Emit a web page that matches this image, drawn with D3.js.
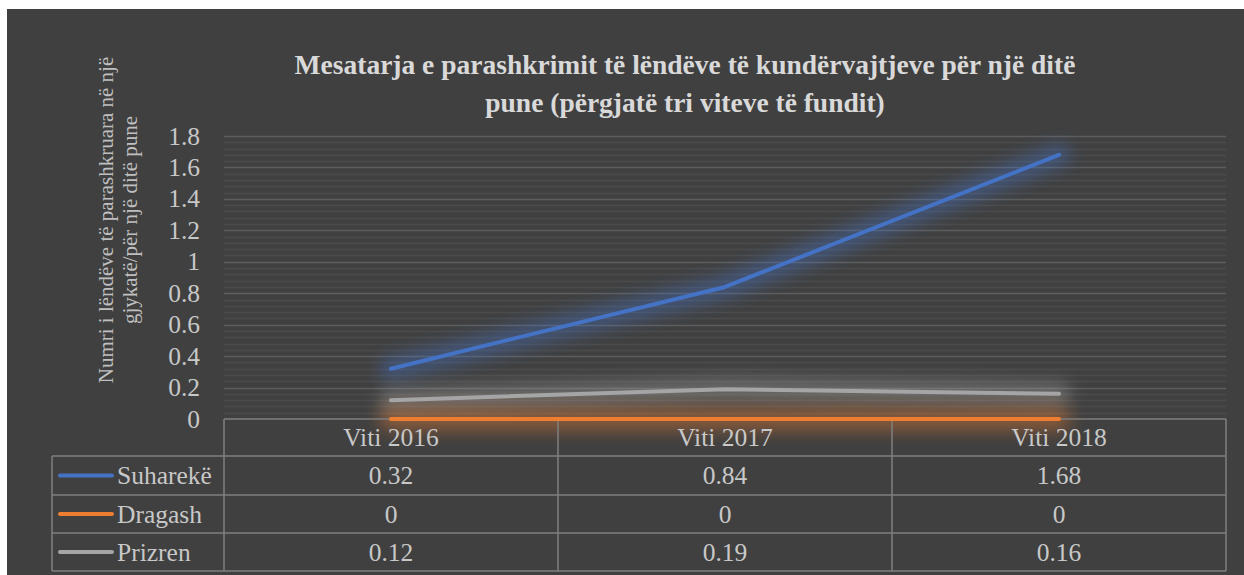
<!DOCTYPE html>
<html>
<head>
<meta charset="utf-8">
<script src="https://cdn.jsdelivr.net/npm/d3@7"></script>
<style>
  body { margin: 0; background: #fff; }
  svg text { font-family: "Liberation Serif", "Times New Roman", Times, "DejaVu Serif", serif; }
</style>
</head>
<body>
<div id="chart"></div>
<script>
// data
const categories = ["Viti 2016", "Viti 2017", "Viti 2018"];
const seriesNames = ["Suharekë", "Dragash", "Prizren"];
const suhareke = [0.32, 0.84, 1.68];
const dragash = [0, 0, 0];
const prizren = [0.12, 0.19, 0.16];
const yTicks = [0, 0.2, 0.4, 0.6, 0.8, 1, 1.2, 1.4, 1.6, 1.8];
const titleLines = ["Mesatarja e parashkrimit të lëndëve të kundërvajtjeve për një ditë",
                    "pune (përgjatë tri viteve të fundit)"];
const yTitleLines = ["Numri i lëndëve të parashkruara në një", "gjykatë/për një ditë pune"];

const colors = ["#4472c4", "#ed7d31", "#a5a5a5"];
const series = seriesNames.map((name, i) => ({name: name, values: [suhareke, dragash, prizren][i], color: colors[i]}));

const W = 1244, H = 575;
const serif = "'Liberation Serif', 'Times New Roman', Times, 'DejaVu Serif', serif";
const svg = d3.select("#chart").append("svg")
    .attr("width", W)
    .attr("height", H)
    .attr("font-family", serif)
    .style("font-family", serif);

// glow filter, user space so flat lines (zero-height bbox) still get it
const defs = svg.append("defs");
defs.append("filter").attr("id", "glow")
    .attr("filterUnits", "userSpaceOnUse")
    .attr("x", 0).attr("y", 0).attr("width", W).attr("height", H)
  .append("feGaussianBlur").attr("stdDeviation", 8);

// background
svg.append("rect")
    .attr("x", 7).attr("y", 9)
    .attr("width", W - 7).attr("height", H - 9)
    .attr("fill", "#404040");

const x = d3.scaleBand().domain(categories).range([224, 1226]);
const y = d3.scaleLinear().domain([0, 1.8]).range([419, 136]);

// minor gridlines
const minor = d3.range(0, 1.8001, 0.04).filter(v => Math.abs(v / 0.2 - Math.round(v / 0.2)) > 0.01);
svg.append("g").selectAll("line").data(minor).join("line")
    .attr("x1", 224).attr("x2", 1226)
    .attr("y1", d => Math.round(y(d)) + 0.5).attr("y2", d => Math.round(y(d)) + 0.5)
    .attr("stroke", "#4b4b4b").attr("stroke-width", 1.5);

// major gridlines
svg.append("g").selectAll("line").data(yTicks.slice(1)).join("line")
    .attr("x1", 224).attr("x2", 1226)
    .attr("y1", d => Math.round(y(d)) + 0.5).attr("y2", d => Math.round(y(d)) + 0.5)
    .attr("stroke", "#5e5e5e").attr("stroke-width", 1.5);

// lines glow
const line = d3.line()
    .x((d, j) => x(categories[j]) + x.bandwidth() / 2)
    .y(d => y(d));

const drawOrder = [series[0], series[2], series[1]];
drawOrder.forEach(s => {
  svg.append("path")
      .attr("d", line(s.values))
      .attr("fill", "none")
      .attr("stroke", s.color).attr("stroke-width", 24)
      .attr("stroke-opacity", 0.4)
      .attr("stroke-linecap", "round")
      .attr("filter", "url(#glow)");
});

// y tick labels
svg.append("g").selectAll("text").data(yTicks).join("text")
    .attr("x", 200).attr("y", d => y(d) + 8.5)
    .attr("text-anchor", "end")
    .attr("font-size", 25.5)
    .attr("fill", "#c8c8c8")
    .text(d => d);

// title
svg.append("text")
    .attr("text-anchor", "middle")
    .attr("font-size", 27.5).attr("font-weight", "bold")
    .attr("fill", "#d9d9d9")
  .selectAll("tspan").data(titleLines).join("tspan")
    .attr("x", 685).attr("y", (d, i) => 73.5 + i * 38)
    .text(d => d);

// y axis title
svg.append("text")
    .attr("transform", "translate(113,220) rotate(-90)")
    .attr("text-anchor", "middle")
    .attr("font-size", 21)
    .attr("fill", "#bfbfbf")
  .selectAll("tspan").data(yTitleLines).join("tspan")
    .attr("x", 0).attr("dy", (d, i) => i === 0 ? 0 : 24)
    .text(d => d);

// table
const rowTop = [419, 456, 495, 533, 571];
const tbl = svg.append("g").attr("stroke", "#7f7f7f").attr("stroke-width", 1.5).attr("fill", "none");
tbl.append("line").attr("x1", 224).attr("x2", 1226).attr("y1", rowTop[0]).attr("y2", rowTop[0]);
rowTop.slice(1).forEach(r => {
  tbl.append("line").attr("x1", 52).attr("x2", 1226).attr("y1", r).attr("y2", r);
});
tbl.append("line").attr("x1", 52).attr("x2", 52).attr("y1", rowTop[1]).attr("y2", rowTop[4]);
[224].concat(categories.map(c => x(c) + x.bandwidth())).forEach(xx => {
  tbl.append("line").attr("x1", xx).attr("x2", xx).attr("y1", rowTop[0]).attr("y2", rowTop[4]);
});

// header labels
svg.append("g").selectAll("text").data(categories).join("text")
    .attr("x", d => x(d) + x.bandwidth() / 2)
    .attr("y", (rowTop[0] + rowTop[1]) / 2 + 8.5)
    .attr("text-anchor", "middle")
    .attr("font-size", 25.5)
    .attr("fill", "#c8c8c8")
    .text(d => d);

// rows
series.forEach((s, i) => {
  const mid = (rowTop[i + 1] + rowTop[i + 2]) / 2;
  svg.append("line")
      .attr("x1", 60).attr("x2", 112).attr("y1", mid).attr("y2", mid)
      .attr("stroke", s.color).attr("stroke-width", 4).attr("stroke-linecap", "round");
  svg.append("text")
      .attr("x", 117).attr("y", mid + 8.5)
      .attr("font-size", 25.5).attr("fill", "#c8c8c8")
      .text(s.name);
  svg.append("g").selectAll("text").data(s.values).join("text")
      .attr("x", (d, j) => x(categories[j]) + x.bandwidth() / 2)
      .attr("y", mid + 8.5)
      .attr("text-anchor", "middle")
      .attr("font-size", 25.5).attr("fill", "#c8c8c8")
      .text(d => d);
});

// lines
drawOrder.forEach(s => {
  svg.append("path")
      .attr("d", line(s.values))
      .attr("fill", "none")
      .attr("stroke", s.color).attr("stroke-width", 4)
      .attr("stroke-linecap", "round").attr("stroke-linejoin", "round");
});
</script>
</body>
</html>
